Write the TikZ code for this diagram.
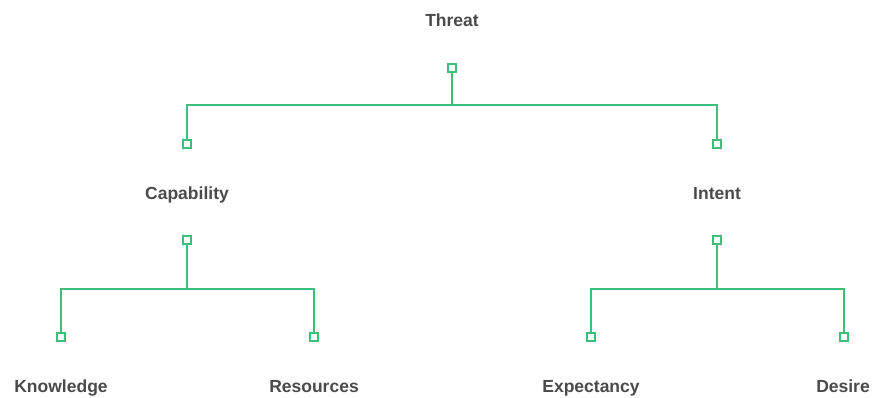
\documentclass[tikz,border=0pt]{standalone}
\usepackage{fontspec}
\setmainfont{Liberation Sans}
\definecolor{lnk}{HTML}{3DBF7B}
\definecolor{txt}{HTML}{4A4A4A}
\tikzset{
  lbl/.style={font=\fontsize{17.5}{20}\selectfont\bfseries, text=txt, inner sep=0pt, anchor=base},
  port/.style={draw=lnk, fill=white, line width=1.8pt, minimum size=8.5pt, inner sep=0pt, rectangle},
  link/.style={draw=lnk, line width=1.6pt},
}
\begin{document}
\begin{tikzpicture}[x=1pt,y=-1pt]
\useasboundingbox (0,0) rectangle (872,398);
% labels
\node[lbl] (threat) at (452,26.5) {Threat};
\node[lbl] (cap) at (187,199.5) {Capability};
\node[lbl] (intent) at (717,199.5) {Intent};
\node[lbl] (know) at (61,392.5) {Knowledge};
\node[lbl] (res) at (314,392.5) {Resources};
\node[lbl] (exp) at (591,392.5) {Expectancy};
\node[lbl] (des) at (843,392.5) {Desire};
% junction levels
\coordinate (j1) at (0,105);
\coordinate (j2) at (0,289);
% connectors
\coordinate (pT) at (452,68);
\coordinate (pC1) at (187,144);
\coordinate (pI1) at (717,144);
\coordinate (pC2) at (187,240);
\coordinate (pI2) at (717,240);
\coordinate (pK) at (61,337);
\coordinate (pR) at (314,337);
\coordinate (pE) at (591,337);
\coordinate (pD) at (844,337);
\draw[link] (pT) -- (pT |- j1) -| (pC1);
\draw[link] (pT |- j1) -| (pI1);
\draw[link] (pC2) -- (pC2 |- j2) -| (pK);
\draw[link] (pC2 |- j2) -| (pR);
\draw[link] (pI2) -- (pI2 |- j2) -| (pE);
\draw[link] (pI2 |- j2) -| (pD);
% ports
\foreach \p in {pT,pC1,pI1,pC2,pI2,pK,pR,pE,pD}
  \node[port] at (\p) {};
\end{tikzpicture}
\end{document}
